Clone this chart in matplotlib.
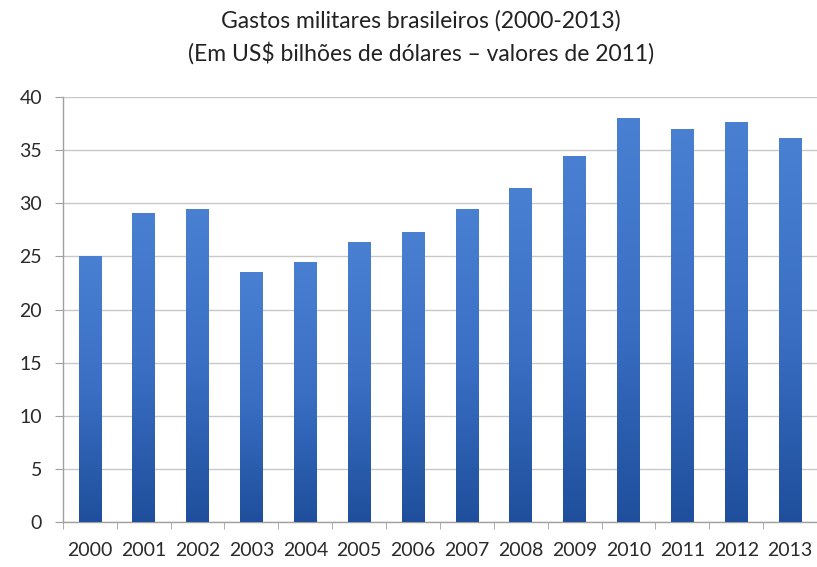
import matplotlib
matplotlib.use("Agg")
import matplotlib.pyplot as plt
import numpy as np
from matplotlib.colors import LinearSegmentedColormap

years = ["2000", "2001", "2002", "2003", "2004", "2005", "2006",
         "2007", "2008", "2009", "2010", "2011", "2012", "2013"]
values = [25.0, 29.1, 29.5, 23.5, 24.5, 26.4, 27.3,
          29.5, 31.4, 34.4, 38.0, 37.0, 37.6, 36.1]
yticks = [0, 5, 10, 15, 20, 25, 30, 35, 40]

title = "Gastos militares brasileiros (2000-2013)\n(Em US$ bilhões de dólares – valores de 2011)"

plt.rcParams['font.family'] = ['Lato', 'DejaVu Sans']

fig = plt.figure(figsize=(8.17, 5.67), dpi=100)
ax = fig.add_axes([0.077, 0.079, 0.923, 0.750])

x = np.arange(len(years))
bars = ax.bar(x, values, width=0.42, color='#3464b4', zorder=3)

cmap = LinearSegmentedColormap.from_list('g', ['#1f4f9c', '#3a6fc4', '#4a80d2'])
grad = np.linspace(0, 1, 256).reshape(-1, 1)
for b in bars:
    x0, y0 = b.get_x(), b.get_y()
    w, h = b.get_width(), b.get_height()
    im = ax.imshow(grad, extent=[x0, x0 + w, y0, y0 + h], origin='lower',
                   cmap=cmap, aspect='auto', zorder=4)
    im.set_clip_path(b)

ax.set_xlim(-0.5, len(years) - 0.5)
ax.set_ylim(0, 40)
ax.set_yticks(yticks)
ax.set_yticklabels([str(t) for t in yticks])
ax.set_xticks(x)
ax.set_xticklabels(years)
ax.set_xticks(np.arange(-0.5, len(years), 1.0), minor=True)

ax.grid(axis='y', color='#c8c8c8', linewidth=1.0, zorder=0)
ax.set_axisbelow(True)
for s in ['top', 'right']:
    ax.spines[s].set_visible(False)
for s in ['left', 'bottom']:
    ax.spines[s].set_color('#a0a0a0')
    ax.spines[s].set_linewidth(1.0)

ax.tick_params(axis='x', which='major', length=0, labelsize=14, colors='#2a2a2a', pad=14)
ax.tick_params(axis='x', which='minor', length=5, color='#a0a0a0')
ax.tick_params(axis='y', length=6, color='#a0a0a0', labelsize=14, labelcolor='#2a2a2a', pad=9)

fig.text(0.515, 0.982, title, ha='center', va='top', fontsize=16.5,
         color='#222222', linespacing=1.5)

fig.savefig("out.png", dpi=100)
